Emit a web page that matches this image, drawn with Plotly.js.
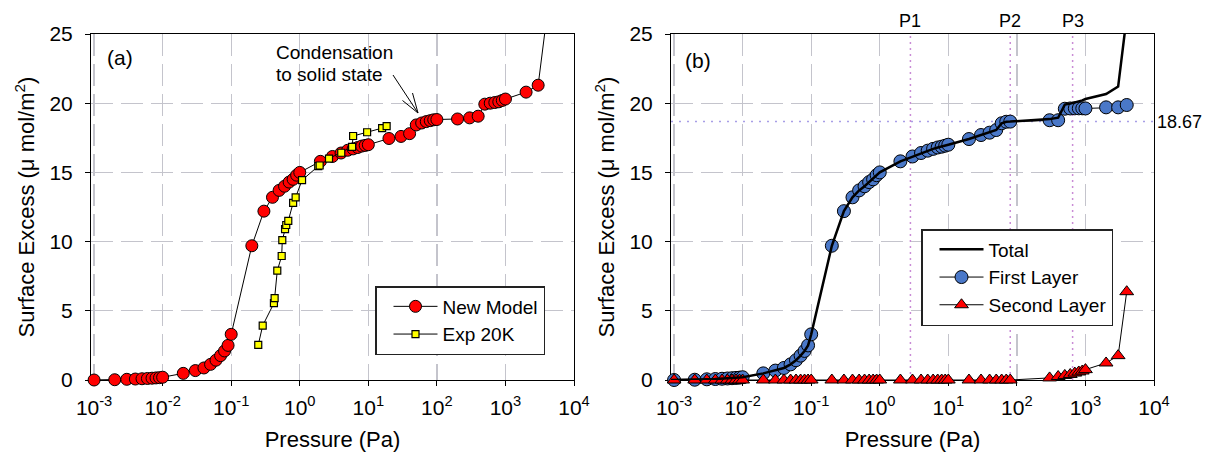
<!DOCTYPE html>
<html>
<head>
<meta charset="utf-8">
<script src="https://cdn.plot.ly/plotly-3.0.1.min.js"></script>
<style>html,body{margin:0;padding:0;background:#fff;}#chart{width:1207px;height:452px;}</style>
</head>
<body>
<div id="chart"></div>
<script>
// ---------- data ----------
// Panel (a): New Model (last point lies above the axis range; only its line segment shows)
const pressureA = [0.0009, 0.001, 0.002, 0.003, 0.004, 0.005, 0.006, 0.007, 0.008, 0.009,
  0.01, 0.02, 0.03, 0.04, 0.05, 0.06, 0.07, 0.08, 0.09,
  0.1, 0.2, 0.3, 0.4, 0.5, 0.6, 0.7, 0.8, 0.9,
  1, 2, 3, 4, 5, 6, 7, 8, 9,
  10, 20, 30, 40, 50, 60, 70, 80, 90,
  100, 200, 300, 400, 500, 600, 700, 800, 900,
  1000, 2000, 3000, 4000];
const newModel = [0.0, 0.0, 0.02, 0.05, 0.07, 0.09, 0.11, 0.13, 0.15, 0.17,
  0.2, 0.48, 0.68, 0.87, 1.13, 1.43, 1.76, 2.1, 2.5,
  3.3, 9.7, 12.2, 13.2, 13.7, 14.0, 14.3, 14.5, 14.8,
  15.0, 15.8, 16.15, 16.4, 16.6, 16.7, 16.8, 16.9, 16.95,
  17.0, 17.45, 17.6, 17.8, 18.43, 18.57, 18.67, 18.74, 18.8,
  18.82, 18.86, 18.94, 19.06, 19.93, 20.0, 20.05, 20.1, 20.2,
  20.3, 20.8, 21.3, 26.2];

// Panel (a): experimental isotherm at 20 K
const pressureExp = [0.248, 0.288, 0.42, 0.43, 0.47, 0.545, 0.556, 0.61, 0.635, 0.68,
  0.80, 0.87, 1.08, 1.86, 1.95, 2.67, 4.03, 5.8, 6.0, 9.6, 15.9, 18.5];
const exp20K = [2.54, 3.93, 5.55, 5.92, 7.9, 8.96, 10.1, 10.9, 11.2, 11.5,
  12.8, 13.2, 14.44, 15.45, 15.5, 16.0, 16.42, 16.85, 17.63, 17.9, 18.2, 18.35];

// Panel (b): layer decomposition
const pressureB = [0.0009, 0.001, 0.002, 0.003, 0.004, 0.005, 0.006, 0.007, 0.008, 0.009,
  0.01, 0.02, 0.03, 0.04, 0.05, 0.06, 0.07, 0.08, 0.09,
  0.1, 0.2, 0.3, 0.4, 0.5, 0.6, 0.7, 0.8, 0.9,
  1, 2, 3, 4, 5, 6, 7, 8, 9,
  10, 20, 30, 40, 50, 60, 70, 80,
  300, 400, 500, 600, 700, 800, 900, 1000, 2000, 3000, 4000];
const firstLayer = [0.0, 0.0, 0.02, 0.05, 0.07, 0.09, 0.11, 0.13, 0.15, 0.17,
  0.2, 0.48, 0.68, 0.87, 1.13, 1.43, 1.76, 2.1, 2.5,
  3.3, 9.7, 12.2, 13.2, 13.7, 14.0, 14.3, 14.5, 14.8,
  15.0, 15.8, 16.15, 16.4, 16.57, 16.7, 16.8, 16.86, 16.93,
  17.0, 17.41, 17.7, 17.87, 18.06, 18.55, 18.66, 18.67,
  18.77, 18.77, 19.6, 19.62, 19.63, 19.63, 19.63, 19.62, 19.7, 19.7, 19.87];
const secondLayer = [0, 0, 0, 0, 0, 0, 0, 0, 0, 0,
  0, 0, 0, 0, 0, 0, 0, 0, 0,
  0, 0, 0, 0, 0, 0, 0, 0, 0,
  0, 0, 0, 0, 0, 0, 0, 0, 0,
  0, 0, 0, 0, 0, 0, 0, 0,
  0.15, 0.25, 0.33, 0.4, 0.5, 0.58, 0.65, 0.75, 1.23, 1.76, 6.38];
const totalB = [0.0, 0.0, 0.02, 0.05, 0.07, 0.09, 0.11, 0.13, 0.15, 0.17,
  0.2, 0.48, 0.68, 0.87, 1.13, 1.43, 1.76, 2.1, 2.5,
  3.3, 9.7, 12.2, 13.2, 13.7, 14.0, 14.3, 14.5, 14.8,
  15.0, 15.8, 16.15, 16.4, 16.57, 16.7, 16.8, 16.86, 16.93,
  17.0, 17.41, 17.7, 17.87, 18.06, 18.55, 18.66, 18.67,
  18.85, 18.95, 19.9, 19.97, 20.05, 20.12, 20.2, 20.3, 20.66, 21.2, 26.25];

// reference marks in panel (b)
const pMarks = [2.8, 80, 650];
const pNames = ['P1', 'P2', 'P3'];
const refLevel = 18.67;

// axis ticks
const tickVals = [0.001, 0.01, 0.1, 1, 10, 100, 1000, 10000];
const tickText = ['10<sup>-3</sup>', '10<sup>-2</sup>', '10<sup>-1</sup>', '10<sup>0</sup>',
  '10<sup>1</sup>', '10<sup>2</sup>', '10<sup>3</sup>', '10<sup>4</sup>'];
const yTickVals = [0, 5, 10, 15, 20, 25];

// ---------- figure ----------
const FONT = 'Liberation Sans, Arial, sans-serif';
const lastA = pressureA.length - 1;
// pixel geometry of the plot area (used only to place decorations in paper units)
const W = 1207, PLOT_TOP = 34, PLOT_BOTTOM = 380, PLOT_H = PLOT_BOTTOM - PLOT_TOP;
const px = v => v / W;
const py = v => (PLOT_BOTTOM - v) / PLOT_H;

const traces = [
  { // off-scale continuation of the model line
    x: pressureA.slice(lastA - 1), y: newModel.slice(lastA - 1),
    xaxis: 'x', yaxis: 'y', mode: 'lines', showlegend: false, hoverinfo: 'skip',
    line: {color: '#000', width: 1}
  },
  {
    name: 'New Model', x: pressureA.slice(0, lastA), y: newModel.slice(0, lastA),
    xaxis: 'x', yaxis: 'y', mode: 'lines+markers', cliponaxis: false, legend: 'legend',
    line: {color: '#000', width: 1},
    marker: {symbol: 'circle', size: 12, color: '#ff0000', line: {color: '#000', width: 1}}
  },
  {
    name: 'Exp 20K', x: pressureExp, y: exp20K,
    xaxis: 'x', yaxis: 'y', mode: 'lines+markers', cliponaxis: false, legend: 'legend',
    line: {color: '#000', width: 1},
    marker: {symbol: 'square', size: 7, color: '#ffff00', line: {color: '#000', width: 1.2}}
  },
  {
    name: 'First Layer', x: pressureB, y: firstLayer,
    xaxis: 'x2', yaxis: 'y2', mode: 'lines+markers', cliponaxis: false, legend: 'legend2', legendrank: 2,
    line: {color: '#000', width: 1},
    marker: {symbol: 'circle', size: 13, color: '#4a78c8', line: {color: '#000', width: 1}}
  },
  {
    name: 'Second Layer', x: pressureB, y: secondLayer,
    xaxis: 'x2', yaxis: 'y2', mode: 'lines+markers', cliponaxis: false, legend: 'legend2', legendrank: 3,
    line: {color: '#000', width: 1},
    marker: {symbol: 'triangle-up', size: 12, color: '#ff0000', line: {color: '#000', width: 1}}
  },
  {
    name: 'Total', x: pressureB, y: totalB,
    xaxis: 'x2', yaxis: 'y2', mode: 'lines', legend: 'legend2', legendrank: 1,
    line: {color: '#000', width: 2.5}
  }
];

function xAxis(domain, anchor) {
  return {
    domain: domain, anchor: anchor, type: 'log', range: [-3.045, 4],
    tickmode: 'array', tickvals: tickVals, ticktext: tickText,
    ticks: 'outside', ticklen: 5, tickcolor: '#000', tickwidth: 1, ticklabelstandoff: 4,
    tickfont: {family: FONT, size: 21, color: '#000'},
    showline: true, linecolor: '#000', linewidth: 1, mirror: true,
    showgrid: true, gridcolor: '#c4c4cc', gridwidth: 1.3, griddash: '22px,8px',
    zeroline: false, layer: 'below traces',
    title: {text: 'Pressure (Pa)', font: {family: FONT, size: 22, color: '#000'}, standoff: 16}
  };
}
function yAxis(anchor) {
  return {
    domain: [0, 1], anchor: anchor, range: [0, 25],
    tickmode: 'array', tickvals: yTickVals,
    ticks: 'outside', ticklen: 5, tickcolor: '#000', tickwidth: 1, ticklabelstandoff: 8,
    tickfont: {family: FONT, size: 21, color: '#000'},
    showline: true, linecolor: '#000', linewidth: 1, mirror: true,
    showgrid: true, gridcolor: '#c4c4cc', gridwidth: 1.3, griddash: '22px,8px',
    zeroline: false, layer: 'below traces',
    title: {text: 'Surface Excess (μ mol/m<sup>2</sup>)', font: {family: FONT, size: 22, color: '#000'}, standoff: 8}
  };
}

const shapes = [];
// horizontal dotted reference line at 18.67
shapes.push({type: 'line', xref: 'x2 domain', yref: 'y2', x0: 0, x1: 1, y0: refLevel, y1: refLevel,
  line: {color: '#a89ee6', width: 1.5, dash: '2px,6px'}, layer: 'below'});
// vertical dotted lines at P1..P3
pMarks.forEach(p => shapes.push({type: 'line', xref: 'x2', yref: 'y2 domain', x0: p, x1: p, y0: 0, y1: 1,
  line: {color: '#c98cd6', width: 1.5, dash: '2px,4px'}, layer: 'below'}));
// open-headed arrow pointing at the condensation step (decoration, pixel geometry)
const arrowTip = [418, 113];
[[393, 75], [402.5, 100.5], [412.5, 93]].forEach(t => shapes.push({
  type: 'line', xref: 'paper', yref: 'paper',
  x0: px(arrowTip[0]), y0: py(arrowTip[1]), x1: px(t[0]), y1: py(t[1]),
  line: {color: '#000', width: 1}}));

const annFont = {family: FONT, size: 19, color: '#000'};
const annotations = [
  {text: '(a)', xref: 'paper', yref: 'paper', x: px(120), y: py(58),
    xanchor: 'center', yanchor: 'middle', showarrow: false, font: {family: FONT, size: 21, color: '#000'}},
  {text: '(b)', xref: 'paper', yref: 'paper', x: px(698), y: py(60),
    xanchor: 'center', yanchor: 'middle', showarrow: false, font: {family: FONT, size: 21, color: '#000'}},
  {text: 'Condensation', xref: 'paper', yref: 'paper', x: px(274), y: py(52),
    xanchor: 'left', yanchor: 'middle', showarrow: false, font: annFont},
  {text: 'to solid state', xref: 'paper', yref: 'paper', x: px(274), y: py(74),
    xanchor: 'left', yanchor: 'middle', showarrow: false, font: annFont},
  {text: refLevel.toFixed(2), xref: 'x2 domain', yref: 'y2', x: 1, y: refLevel,
    xanchor: 'left', yanchor: 'middle', xshift: 1, showarrow: false, font: {family: FONT, size: 18, color: '#000'}}
];
pMarks.forEach((p, i) => annotations.push({
  text: pNames[i], xref: 'x2', yref: 'y2 domain', x: Math.log10(p), y: 1,
  xanchor: 'center', yanchor: 'bottom', yshift: 1, showarrow: false,
  font: {family: FONT, size: 18, color: '#000'}}));

const legendBase = {
  bgcolor: '#fff', bordercolor: '#222', borderwidth: 1.5,
  font: {family: FONT, size: 19, color: '#000'}, xanchor: 'left', yanchor: 'top',
  xref: 'paper', yref: 'paper', tracegroupgap: 0, indentation: 12, itemwidth: 44
};

const layout = {
  width: W, height: 452,
  margin: {l: 0, r: 0, t: PLOT_TOP, b: 452 - PLOT_BOTTOM},
  paper_bgcolor: '#fff', plot_bgcolor: '#fff',
  font: {family: FONT, color: '#000'},
  showlegend: true,
  xaxis: xAxis([px(91), px(574)], 'y'),
  yaxis: yAxis('x'),
  xaxis2: xAxis([px(671), px(1154)], 'y2'),
  yaxis2: yAxis('x2'),
  legend: Object.assign({}, legendBase, {x: px(375), y: py(286)}),
  legend2: Object.assign({}, legendBase, {x: px(921), y: py(229)}),
  shapes: shapes,
  annotations: annotations
};

Plotly.newPlot('chart', traces, layout, {displayModeBar: false, staticPlot: true});
</script>
</body>
</html>
